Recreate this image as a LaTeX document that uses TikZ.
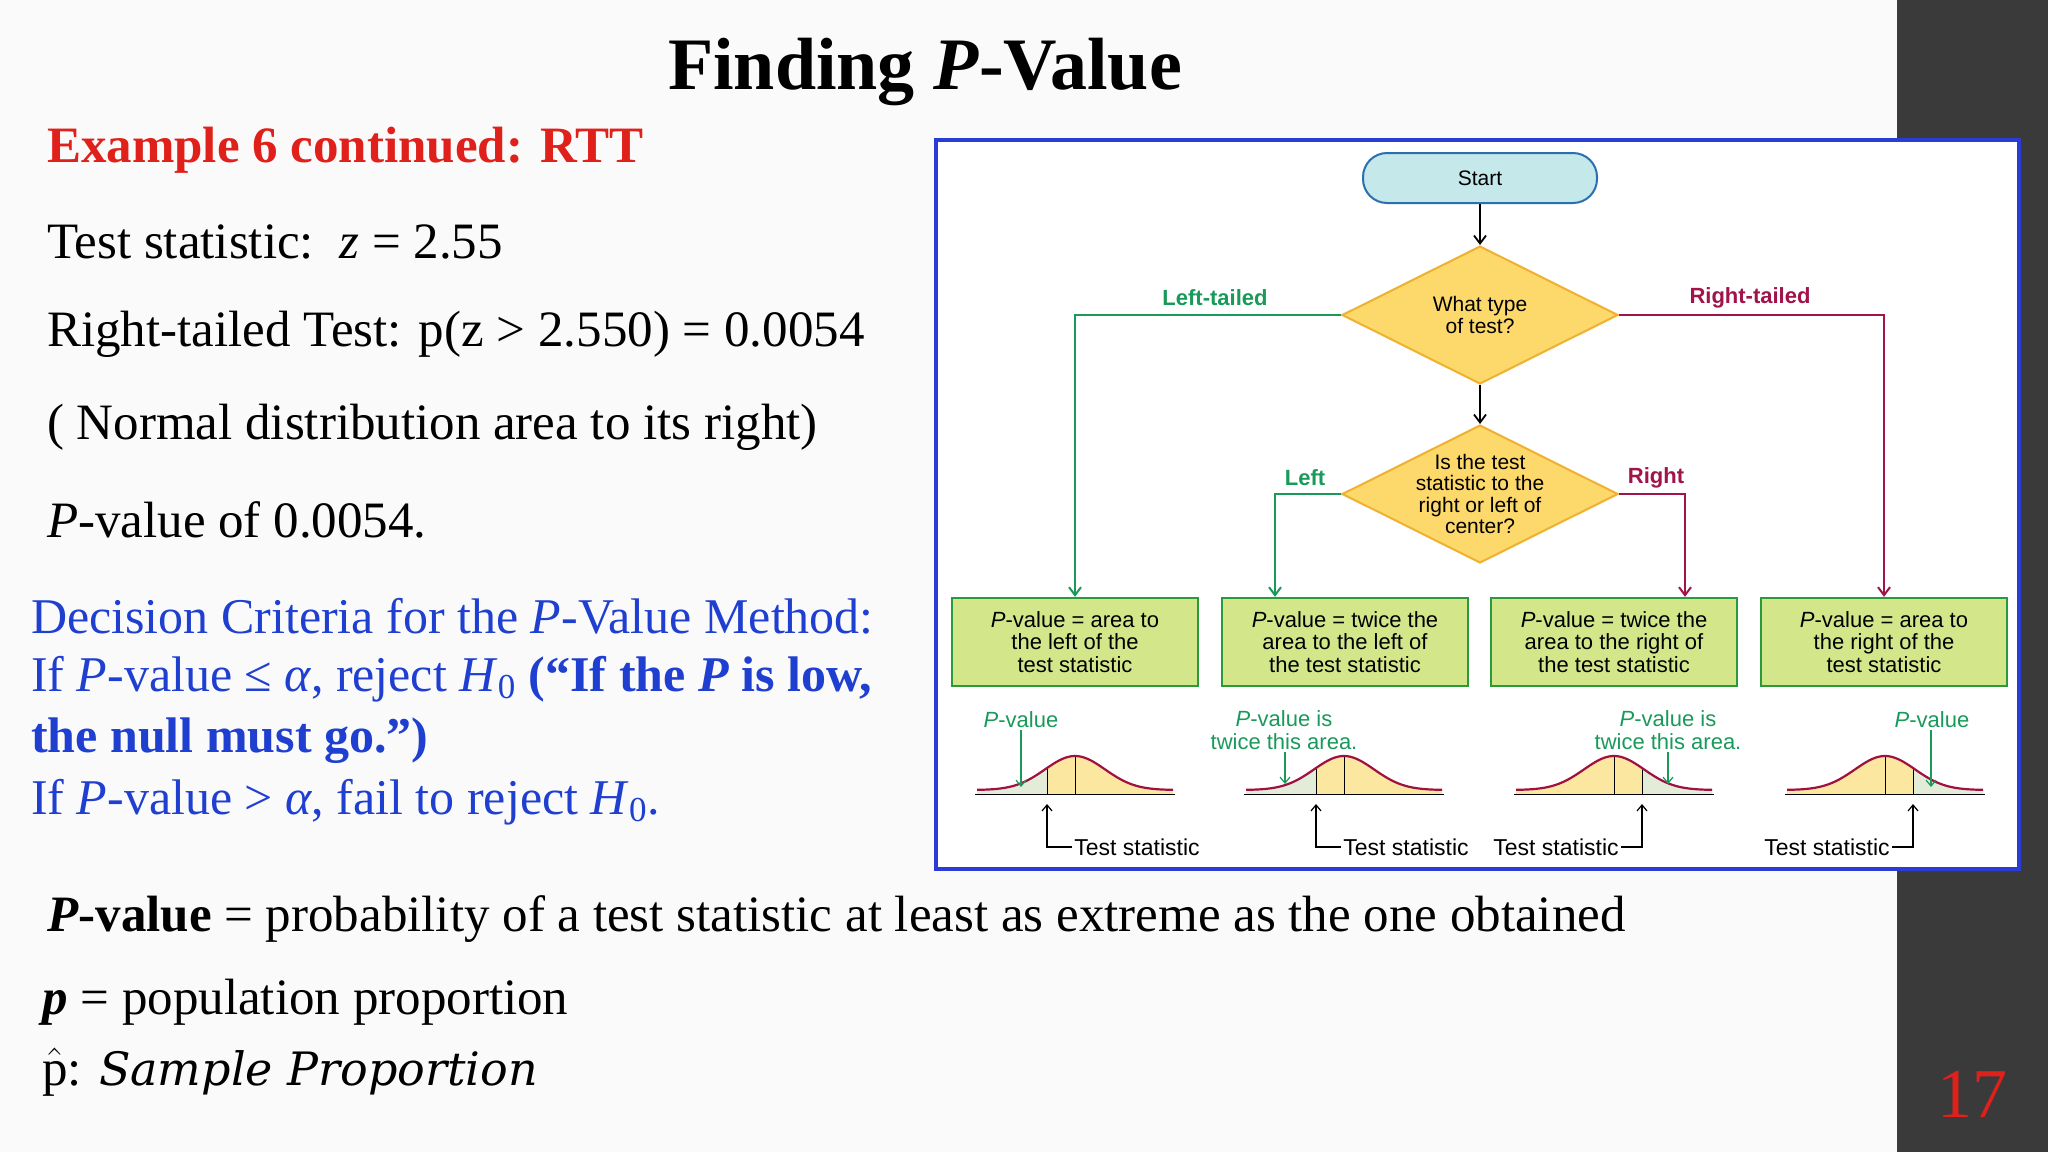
\documentclass[tikz,border=0pt]{standalone}
\usepackage{fontspec}
\setmainfont{Liberation Serif}
\newfontfamily\fcsans{Liberation Sans}
\newfontfamily\wideital{DejaVu Serif}
\usetikzlibrary{shapes.geometric,arrows.meta}
\definecolor{slidebg}{HTML}{FAFAFA}
\definecolor{barcol}{HTML}{3A3A3A}
\definecolor{redtxt}{HTML}{E0201A}
\definecolor{bluetxt}{HTML}{1F3FD0}
\definecolor{framecol}{HTML}{2B3BD6}
\definecolor{gline}{HTML}{1A9A5A}
\definecolor{rline}{HTML}{A0144A}
\definecolor{boxfill}{HTML}{D4E68A}
\definecolor{boxdraw}{HTML}{2A9A3A}
\definecolor{dfill}{HTML}{FCD96A}
\definecolor{ddraw}{HTML}{F0B030}
\definecolor{sfill}{HTML}{C5E8EA}
\definecolor{sdraw}{HTML}{2A6FB0}
\definecolor{bellyel}{HTML}{FBE7A0}
\definecolor{bellgrn}{HTML}{E3ECD8}
\definecolor{bellred}{HTML}{A01040}
\newcommand\mybell[2]{%
  \pgfmathsetmacro\st{#1+28*(#2)}
  \fill[bellyel] (#1-98,794) -- plot[domain=#1-98:#1+98,samples=70] (\x,{790-34*exp(-((\x-#1)/30)^2/2)}) -- (#1+98,794) -- cycle;
  \ifnum#2<0
    \fill[bellgrn] (#1-98,794) -- plot[domain=#1-98:\st,samples=30] (\x,{790-34*exp(-((\x-#1)/30)^2/2)}) -- (\st,794) -- cycle;
  \else
    \fill[bellgrn] (\st,794) -- plot[domain=\st:#1+98,samples=30] (\x,{790-34*exp(-((\x-#1)/30)^2/2)}) -- (#1+98,794) -- cycle;
  \fi
  \draw[line width=0.5pt] (#1-100,794) -- (#1+100,794);
  \draw[line width=0.4pt] (#1,794) -- (#1,756);
  \draw[line width=0.4pt] (\st,794) -- (\st,768);
  \draw[bellred,line width=1.1pt] plot[domain=#1-98:#1+98,samples=70] (\x,{790-34*exp(-((\x-#1)/30)^2/2)});
}
\begin{document}
\begin{tikzpicture}[x=0.5pt,y=-0.5pt,
  body/.style={anchor=west,font=\fontsize{25.5}{30}\selectfont},
  bluebody/.style={anchor=west,font=\fontsize{25}{30}\selectfont,text=bluetxt},
  outbox/.style={draw=boxdraw,fill=boxfill,line width=1.2pt,minimum width=123pt,minimum height=44pt,align=center,font=\fcsans\fontsize{11}{11.3}\selectfont,inner sep=1pt},
  dec/.style={diamond,draw=ddraw,fill=dfill,line width=1pt,minimum width=138pt,minimum height=69pt,inner sep=0pt},
  dectxt/.style={align=center,font=\fcsans\fontsize{10.5}{10.8}\selectfont,inner sep=0pt},
  gl/.style={gline,line width=1pt,-{Straight Barb[length=4pt,width=6pt]}},
  rl/.style={rline,line width=1pt,-{Straight Barb[length=4pt,width=6pt]}},
  bl/.style={black,line width=0.9pt,-{Straight Barb[length=4pt,width=6pt]}},
  glab/.style={text=gline,font=\fcsans\bfseries\fontsize{11}{12}\selectfont},
  rlab/.style={text=rline,font=\fcsans\bfseries\fontsize{11}{12}\selectfont},
  gtxt/.style={text=gline,align=center,font=\fcsans\fontsize{11}{11.3}\selectfont,inner sep=1pt},
  ttxt/.style={font=\fcsans\fontsize{11.5}{12}\selectfont,inner sep=1pt},
  ]
\useasboundingbox (0,0) rectangle (2048,1152);
\fill[slidebg] (0,0) rectangle (2048,1152);
\fill[barcol] (1897,0) rectangle (2048,1152);
\node[text=redtxt,font=\fontsize{35}{38}\selectfont] (pg) at (1972,1094) {17};
\node[font=\bfseries\fontsize{37}{42}\selectfont] (title) at (925,72) {Finding \textit{P}-Value};
% left text
\node[body,text=redtxt,font=\bfseries\fontsize{25.5}{30}\selectfont] (ex) at (40,150) {Example 6 continued: RTT};
\node[body] (t1) at (40,242) {Test statistic:\ \ \textit{z} = 2.55};
\node[body] (t2) at (40,334) {Right-tailed Test: p(z > 2.550) = 0.0054};
\node[body] (t3) at (40,427) {( Normal distribution area to its right)};
\node[body] (t4) at (40,520) {\textit{P}-value of 0.0054.};
\node[bluebody] (b1t) at (24,616) {Decision Criteria for the \textit{P}-Value Method:};
\node[bluebody] (b2t) at (24,679) {If \textit{P}-value ≤ \textit{α}, reject \textit{H}\textsubscript{0} \textbf{(“If the \textit{P} is low,}};
\node[bluebody] (b3t) at (24,741) {\textbf{the null must go.”)}};
\node[bluebody] (b4t) at (24,802) {If \textit{P}-value > \textit{α}, fail to reject \textit{H}\textsubscript{0}.};
\node[body] (d1t) at (40,919) {\textbf{\textit{P}-value} = probability of a test statistic at least as extreme as the one obtained};
\node[body,inner sep=1pt] (d2t) at (40,1002) {\textbf{\textit{p}} = population proportion};
\node[body,inner sep=1pt] (d3t) at (40,1072) {$\hat{\mathrm{p}}$: {\wideital\itshape\fontsize{23}{28}\selectfont Sample Proportion}};
% flowchart frame
\fill[white] (936,140) rectangle (2019,869);
\draw[framecol,line width=1.6pt] (936,140) rectangle (2019,869);
\node[draw=sdraw,fill=sfill,line width=1pt,rounded corners=12pt,minimum width=117pt,minimum height=25pt,font=\fcsans\fontsize{10.5}{12}\selectfont] (start) at (1480,178) {Start};
\node[dec] (q1) at (1480,315) {};
\node[dectxt] (q1t) at (1480,315) {What type\\of test?};
\node[dec] (q2) at (1480,494) {};
\node[dectxt] (q2t) at (1480,494) {Is the test\\statistic to the\\right or left of\\center?};
\node[outbox] (o1) at (1075,642) {\textit{P}-value = area to\\the left of the\\test statistic};
\node[outbox] (o2) at (1345,642) {\textit{P}-value = twice the\\area to the left of\\the test statistic};
\node[outbox] (o3) at (1614,642) {\textit{P}-value = twice the\\area to the right of\\the test statistic};
\node[outbox] (o4) at (1884,642) {\textit{P}-value = area to\\the right of the\\test statistic};
\draw[bl] (start) -- (q1);
\draw[bl] (q1) -- (q2);
\draw[gl] (q1.west) -| (o1.north);
\draw[rl] (q1.east) -| (o4.north);
\draw[gl] (q2.west) -| ([xshift=-35pt]o2.north);
\draw[rl] (q2.east) -| ([xshift=35.5pt]o3.north);
\node[glab] (lt) at (1215,298) {Left-tailed};
\node[rlab] (rt) at (1750,298) {Right-tailed};
\node[glab] (ll) at (1305,478) {Left};
\node[rlab] (rr) at (1656,478) {Right};
% curves
\mybell{1075}{-1}
\mybell{1344}{-1}
\mybell{1614}{1}
\mybell{1885}{1}
\node[gtxt] (p1) at (1021,720) {\textit{P}-value};
\node[gtxt] (p2) at (1284,730) {\textit{P}-value is\\twice this area.};
\node[gtxt] (p3) at (1668,730) {\textit{P}-value is\\twice this area.};
\node[gtxt] (p4) at (1932,720) {\textit{P}-value};
\coordinate (a1) at (1021,787);
\coordinate (a2) at (1285,784);
\coordinate (a3) at (1668,784);
\coordinate (a4) at (1931,787);
\draw[gline,line width=0.6pt,-{Straight Barb[length=3pt,width=5pt]}] (p1.south -| a1) -- (a1);
\draw[gline,line width=0.6pt,-{Straight Barb[length=3pt,width=5pt]}] (p2.south -| a2) -- (a2);
\draw[gline,line width=0.6pt,-{Straight Barb[length=3pt,width=5pt]}] (p3.south -| a3) -- (a3);
\draw[gline,line width=0.6pt,-{Straight Barb[length=3pt,width=5pt]}] (p4.south -| a4) -- (a4);
\node[ttxt,anchor=west] (s1) at (1072,847) {Test statistic};
\node[ttxt,anchor=west] (s2) at (1341,847) {Test statistic};
\node[ttxt,anchor=east] (s3) at (1621,847) {Test statistic};
\node[ttxt,anchor=east] (s4) at (1892,847) {Test statistic};
\coordinate (e1) at (1047,804);
\coordinate (e2) at (1316,804);
\coordinate (e3) at (1642,804);
\coordinate (e4) at (1913,804);
\draw[black,line width=0.6pt,-{Straight Barb[length=3pt,width=5pt]}] (s1.west) -| (e1);
\draw[black,line width=0.6pt,-{Straight Barb[length=3pt,width=5pt]}] (s2.west) -| (e2);
\draw[black,line width=0.6pt,-{Straight Barb[length=3pt,width=5pt]}] (s3.east) -| (e3);
\draw[black,line width=0.6pt,-{Straight Barb[length=3pt,width=5pt]}] (s4.east) -| (e4);
\end{tikzpicture}
\end{document}
